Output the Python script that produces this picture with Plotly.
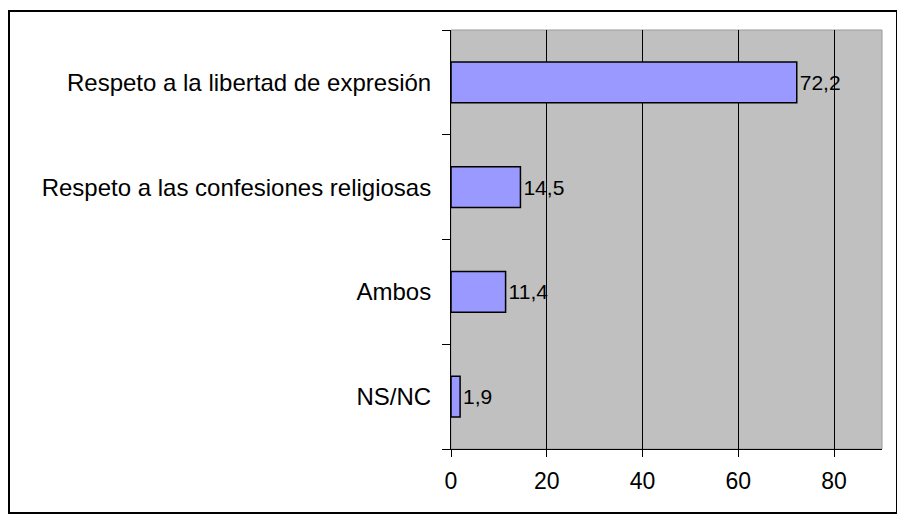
import plotly.graph_objects as go

categories = ["Respeto a la libertad de expresión", "Respeto a las confesiones religiosas", "Ambos", "NS/NC"]
values = [72.2, 14.5, 11.4, 1.9]
x_ticks = [0, 20, 40, 60, 80]

FONT = "Liberation Sans, Arial"
fig = go.Figure()
fig.add_trace(go.Bar(
    y=categories, x=values, orientation="h",
    marker=dict(color="#9999FF", line=dict(color="black", width=1.5)),
    text=[f"{v:.1f}".replace(".", ",") for v in values],
    textposition="outside", cliponaxis=False,
    textfont=dict(family=FONT, size=21, color="black"),
    width=0.39,
))

W, H = 897, 513
L, R, T, B = 443, 23, 22, 72
pw, ph = W - L - R, H - T - B
fig.update_layout(
    width=W, height=H,
    margin=dict(l=L, r=R, t=T, b=B, pad=0),
    paper_bgcolor="white", plot_bgcolor="#C0C0C0",
    font=dict(family=FONT, size=23, color="black"),
    showlegend=False,
    xaxis=dict(range=[0, 90], tickvals=x_ticks, showgrid=True, gridcolor="black", gridwidth=1,
               ticks="outside", ticklen=7, tickcolor="black", showline=True, linecolor="black",
               linewidth=1, zeroline=False, tickfont=dict(size=23), ticklabelstandoff=4),
    yaxis=dict(categoryorder="array", categoryarray=categories[::-1], ticks="outside",
               tickson="boundaries", ticklen=8, tickcolor="black", showline=True,
               linecolor="black", linewidth=1, showgrid=False, tickfont=dict(size=24),
               ticklabelstandoff=14),
    shapes=[
        dict(type="rect", xref="paper", yref="paper", x0=0, x1=1, y0=0, y1=1,
             line=dict(color="#9A9A9A", width=1), layer="below"),
        dict(type="rect", xref="paper", yref="paper",
             x0=(1 - L) / pw, x1=(889 - L) / pw,
             y0=(T + ph - 505) / ph, y1=(T + ph - 3) / ph,
             line=dict(color="black", width=2)),
    ],
)
fig.write_html("out.html")
